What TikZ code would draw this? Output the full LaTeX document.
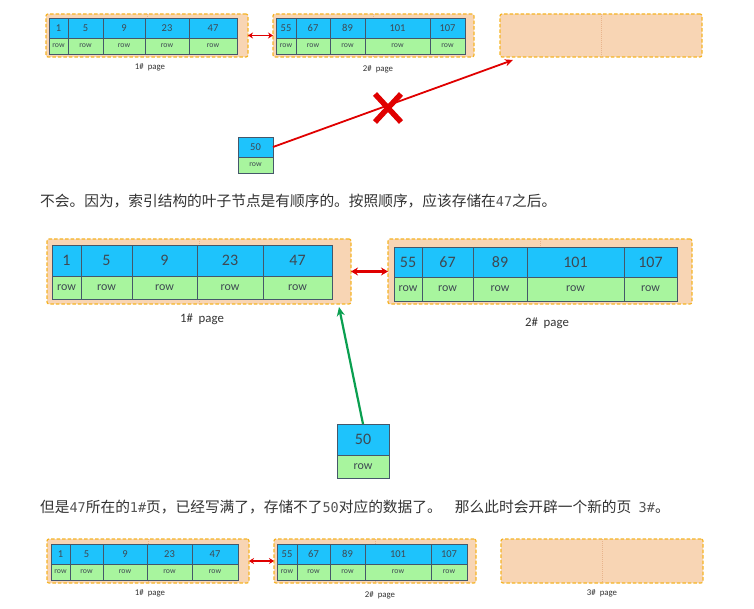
\documentclass[tikz,border=0pt]{standalone}
\usepackage{fontspec}
\setmainfont{Carlito}
\newfontfamily\cjk{Noto Sans CJK SC}
\newfontfamily\codefont{DejaVu Sans Mono}
\usetikzlibrary{arrows.meta}

\definecolor{peach}{HTML}{F8D5B4}
\definecolor{pageedge}{HTML}{F5B425}
\definecolor{pagediv}{HTML}{E8B48C}
\definecolor{keyblue}{HTML}{1EC3FC}
\definecolor{rowgreen}{HTML}{A8F59E}
\definecolor{celledge}{HTML}{45576A}
\definecolor{celltext}{HTML}{3E4852}
\definecolor{bodytext}{HTML}{333333}
\definecolor{codetext}{HTML}{555555}
\definecolor{linkred}{HTML}{E00000}
\definecolor{okgreen}{HTML}{0A9F50}

\tikzset{
  pagebox/.style={fill=peach, draw=pageedge, line width=1.2pt,
    dash pattern=on 3.5pt off 2pt, rounded corners=2pt, inner sep=0pt, outer sep=0pt},
  pagedivline/.style={draw=pagediv, line width=0.4pt, dash pattern=on 1pt off 1pt},
  cellbase/.style={draw=celledge, line width=0.6pt, inner sep=0pt, outer sep=0pt, text=celltext},
  smallkey/.style={cellbase, fill=keyblue, font=\fontsize{10.5}{10.5}\selectfont},
  smallrow/.style={cellbase, fill=rowgreen, font=\fontsize{7.8}{7.8}\selectfont},
  bigkey/.style={cellbase, fill=keyblue, font=\fontsize{16}{16}\selectfont},
  bigrow/.style={cellbase, fill=rowgreen, font=\fontsize{12}{12}\selectfont},
  smalllabel/.style={text=bodytext, font=\fontsize{8.8}{8.8}\selectfont, inner sep=0pt},
  biglabel/.style={text=bodytext, font=\fontsize{12.8}{12.8}\selectfont, inner sep=0pt},
  saying/.style={anchor=west, inner sep=0pt, text=bodytext, font=\cjk\fontsize{14.7}{14.7}\selectfont},
  code/.style={},
  pairarrow/.style={draw=linkred, line width=1.8pt, {Stealth[length=5pt,width=6pt]}-{Stealth[length=5pt,width=6pt]}},
  bigpairarrow/.style={draw=linkred, line width=2.6pt, {Stealth[length=7pt,width=8pt]}-{Stealth[length=7pt,width=8pt]}},
  wrongarrow/.style={draw=linkred, line width=1.8pt, -{Stealth[length=8pt,width=7pt]}},
  crossmark/.style={draw=linkred, line width=5.5pt},
  rightarrow/.style={draw=okgreen, line width=2.2pt, -{Stealth[length=9pt,width=8pt]}},
}
\newcommand\code[1]{{\codefont\fontsize{13.5}{13.5}\selectfont\color{codetext}#1}}

% a page: dashed peach box with a faint divider down the middle
\newcommand\drawpage[5]{%
  \node[pagebox, minimum width={(#4-#2)*1pt}, minimum height={(#5-#3)*1pt}]
    (#1) at ({(#2+#4)/2},{(#3+#5)/2}) {};
  \draw[pagedivline] (#1.north) -- (#1.south);
}
% a table of records: key cells on top, "row" cells below
% #1 prefix, #2 top, #3 middle, #4 bottom, #5 key style, #6 row style, #7 left/right/key list
\newcommand\drawtable[7]{%
  \foreach \a/\b/\t [count=\i] in {#7} {
    \node[#5, minimum width={(\b-\a)*1pt}, minimum height={(#3-#2)*1pt}]
      (#1k\i) at ({(\a+\b)/2},{(#2+#3)/2}) {\t};
    \node[#6, minimum width={(\b-\a)*1pt}, minimum height={(#4-#3)*1pt}]
      (#1r\i) at ({(\a+\b)/2},{(#3+#4)/2}) {row};
  }%
}

\begin{document}
\begin{tikzpicture}[x=1pt, y=-1pt]
\useasboundingbox[fill=white] (0,0) rectangle (754,609);

% ---- first row: pages 1, 2 and an empty page
\drawpage{tA}{46}{14}{248}{57}
\drawtable{tA}{18}{38}{54}{smallkey}{smallrow}{49/68/1,68/103/5,103/145/9,145/189/23,189/237/47}
\drawpage{tB}{273}{14}{474}{57}
\drawtable{tB}{18}{38}{54}{smallkey}{smallrow}{276/296/55,296/330/67,330/365/89,365/430/101,430/465/107}
\drawpage{tC}{500}{14}{702}{57}
\node[smalllabel] (tAl) at (150,67) {1\#\hspace{0.45em}page};
\node[smalllabel] (tBl) at (378,69) {2\#\hspace{0.45em}page};
\draw[pairarrow] (tA.east) -- (tB.west);

% record 50 trying to go to the new page
\drawtable{sA}{137}{157}{173}{smallkey}{smallrow}{238/273/50}
\coordinate (miss) at (513,60);
\draw[wrongarrow] (sAk1.east) -- (miss);
\draw[crossmark, shift={(388,108)}] (-13,-14) -- (13,14) (-13,14) -- (13,-14);

\node[saying] (say1) at (40,201) {不会。因为，索引结构的叶子节点是有顺序的。按照顺序，应该存储在\code{47}之后。};

% ---- second row: record 50 belongs after 47 in page 1
\drawpage{mA}{47}{239}{351}{304}
\drawtable{mA}{245}{276}{299}{bigkey}{bigrow}{52/81/1,81/132/5,132/197/9,197/263/23,263/332/47}
\drawpage{mB}{388}{239}{692}{304}
\drawtable{mB}{247}{277}{301}{bigkey}{bigrow}{394/422/55,422/473/67,473/527/89,527/624/101,624/677/107}
\node[biglabel] (mAl) at (202,319) {1\#\hspace{0.45em}page};
\node[biglabel] (mBl) at (547,323) {2\#\hspace{0.45em}page};
\draw[bigpairarrow] (mA.east) -- (mB.west);

\drawtable{bA}{424}{455}{478}{bigkey}{bigrow}{337/389/50}
\coordinate (slot) at (339,307);
\draw[rightarrow] (bAk1.north) -- (slot);

\node[saying] (say2) at (40,507) {但是\code{47}所在的\code{1\#}页，已经写满了，存储不了\code{50}对应的数据了。\hspace{0.9em}那么此时会开辟一个新的页\hspace{0.5em}\code{3\#}。};

% ---- third row: a new page 3 is opened
\drawpage{lA}{47}{539}{249}{583}
\drawtable{lA}{544}{564}{580}{smallkey}{smallrow}{51/70/1,70/103/5,103/147/9,147/192/23,192/238/47}
\drawpage{lB}{274}{539}{476}{583}
\drawtable{lB}{544}{564}{580}{smallkey}{smallrow}{277/297/55,297/330/67,330/365/89,365/431/101,431/467/107}
\drawpage{lC}{501}{539}{703}{583}
\node[smalllabel] (lAl) at (150,593) {1\#\hspace{0.45em}page};
\node[smalllabel] (lBl) at (380,595) {2\#\hspace{0.45em}page};
\node[smalllabel] (lCl) at (602,593) {3\#\hspace{0.45em}page};
\draw[pairarrow] (lA.east) -- (lB.west);
\end{tikzpicture}
\end{document}
